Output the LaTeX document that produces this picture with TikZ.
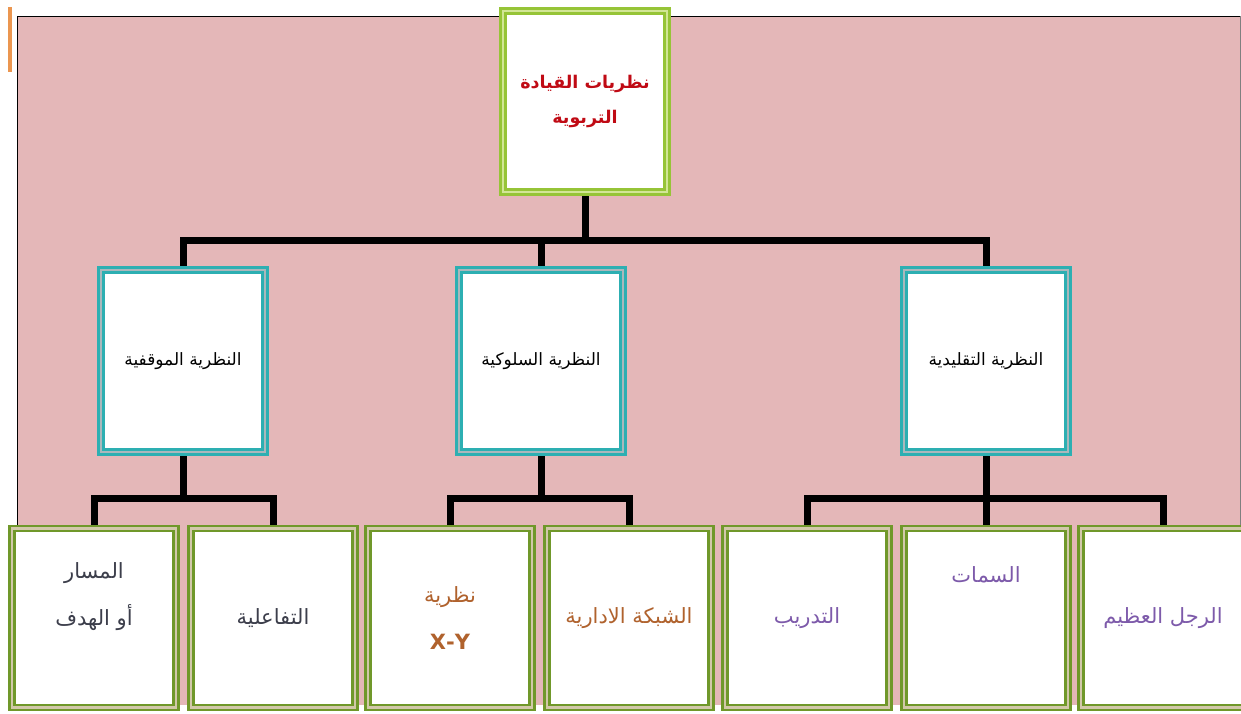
\documentclass[tikz,border=0pt]{standalone}
\usepackage{fontspec}
\usepackage{xcolor}
\usepackage{tikz}
\usetikzlibrary{backgrounds}
\newfontfamily\arabicfont[Script=Arabic]{DejaVu Sans}
\TeXXeTstate=1
\definecolor{bgpink}{RGB}{228,183,184}
\definecolor{topgreen}{RGB}{150,196,55}
\definecolor{topgap}{RGB}{210,230,150}
\definecolor{midteal}{RGB}{45,175,178}
\definecolor{midgap}{RGB}{170,184,188}
\definecolor{leafolive}{RGB}{112,152,42}
\definecolor{leafgap}{RGB}{210,200,170}
\definecolor{titlered}{RGB}{192,10,20}
\definecolor{leafgray}{RGB}{60,62,75}
\definecolor{leafbrown}{RGB}{176,98,45}
\definecolor{leafpurple}{RGB}{125,90,170}
\definecolor{pageorange}{RGB}{235,150,80}

\begin{document}
\begin{tikzpicture}[x=1pt,y=-1pt,
      every node/.style={shape=rectangle,align=center,fill=white,inner sep=0pt},
      topbox/.style={draw=topgreen,line width=3pt,double=topgap,double distance=2pt,
        minimum width=164pt,minimum height=181pt,text=titlered,
        font=\arabicfont\bfseries\fontsize{17.5}{35}\selectfont},
      midbox/.style={draw=midteal,line width=3pt,double=midgap,double distance=2pt,
        minimum width=164pt,minimum height=182pt,font=\arabicfont\fontsize{17}{20}\selectfont},
      leafbox/.style={draw=leafolive,line width=2.6pt,double=leafgap,double distance=2.6pt,
        minimum width=164pt,minimum height=179pt,font=\arabicfont\fontsize{21}{47}\selectfont},
      lift/.style={text height=14pt,text depth=#1},
      conn/.style={line width=7pt}]
  \useasboundingbox (0,0) rectangle (1241,713);

  % levels
  \node[topbox] (root) at (585,101) {\beginR نظريات القيادة\endR\\\beginR التربوية\endR};
  \node[midbox] (mid1) at (183,361) {\beginR النظرية الموقفية\endR};
  \node[midbox] (mid2) at (541,361) {\beginR النظرية السلوكية\endR};
  \node[midbox] (mid3) at (986,361) {\beginR النظرية التقليدية\endR};
  \node[leafbox,text=leafgray,lift=-3pt] (leaf1) at (94,618) {\beginR المسار\endR\\\beginR أو الهدف\endR};
  \node[leafbox,text=leafgray] (leaf2) at (273,618) {\beginR التفاعلية\endR};
  \node[leafbox,text=leafbrown] (leaf3) at (450,618) {\beginR نظرية\endR\\\textbf{X-Y}};
  \node[leafbox,text=leafbrown] (leaf4) at (629,618) {\beginR الشبكة الادارية\endR};
  \node[leafbox,text=leafpurple] (leaf5) at (807,618) {\beginR التدريب\endR};
  \node[leafbox,text=leafpurple,lift=86pt] (leaf6) at (986,618) {\beginR السمات\endR};
  \node[leafbox,text=leafpurple] (leaf7) at (1163,618) {\beginR الرجل العظيم\endR};

  \coordinate (bar0) at (585,240);
  \coordinate (bar1) at (183,498);
  \coordinate (bar2) at (541,498);
  \coordinate (bar3) at (986,498);

  \begin{pgfonlayer}{background}
    \fill[bgpink] (17,16) rectangle (1240,705);
    \draw[black,line width=1pt] (17,705) -- (17,16) -- (1240,16);
    \draw[gray,line width=1pt] (1240,16) -- (1240,705);
    \draw[pageorange,line width=4pt] (10,7) -- (10,72);
    % connectors
    \draw[conn] (root.south) -- (bar0);
    \draw[conn] (mid1.north) |- (bar0) -| (mid3.north);
    \draw[conn] (mid2.north) -- (mid2.north |- bar0);
    \draw[conn] (mid1.south) -- (bar1);
    \draw[conn] (leaf1.north) |- (bar1) -| (leaf2.north);
    \draw[conn] (mid2.south) -- (bar2);
    \draw[conn] (leaf3.north) |- (bar2) -| (leaf4.north);
    \draw[conn] (mid3.south) -- (bar3);
    \draw[conn] (leaf5.north) |- (bar3) -| (leaf7.north);
    \draw[conn] (leaf6.north) -- (leaf6.north |- bar3);
  \end{pgfonlayer}
\end{tikzpicture}
\end{document}
